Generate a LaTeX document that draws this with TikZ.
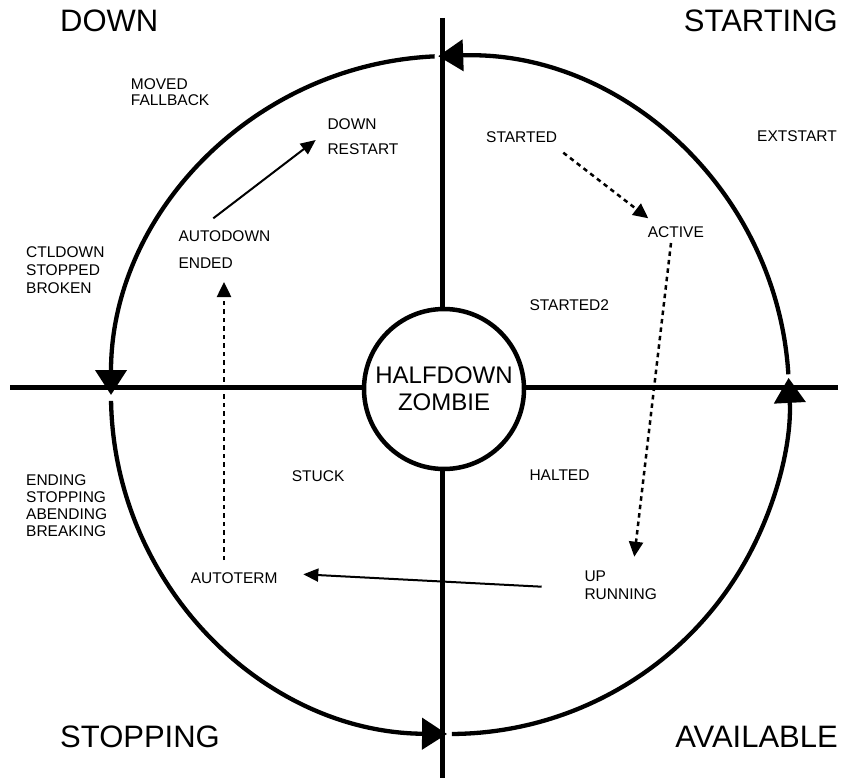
\documentclass[tikz,border=0pt]{standalone}
\usepackage{fontspec}
\setmainfont{Liberation Sans}
\usetikzlibrary{arrows.meta}
\begin{document}
\begin{tikzpicture}[x=1pt,y=-1pt,
  ring/.style={line width=4.3pt},
  axisline/.style={line width=5pt},
  bigarrow/.style={-{Triangle[length=25pt,width=31pt]}},
  biglbl/.style={font=\fontsize{31}{34}\selectfont, inner sep=0pt},
  lbl/.style={font=\fontsize{15.5}{#1}\selectfont, inner sep=0pt, anchor=base west, align=left},
  lbl/.default=17,
  flow/.style={line width=2pt, -{Triangle[length=15pt,width=13pt]}},
  dflow/.style={line width=2.5pt, dash pattern=on 4.5pt off 4pt, -{Triangle[length=15pt,width=14pt]}},
]
\useasboundingbox (0,0) rectangle (843,778);

% centre circle
\node[circle, draw, line width=4.5pt, minimum size=160pt, inner sep=0pt,
      align=center, font=\fontsize{24}{27}\selectfont] (hz) at (444,389) {HALFDOWN\\ZOMBIE};

% axes
\coordinate (vtop) at (442,18);
\coordinate (vbot) at (442,778);
\coordinate (hleft) at (10,387);
\coordinate (hright) at (838,387);
\draw[axisline] (vtop) -- (vtop |- hz.north);
\draw[axisline] (vbot) -- (vbot |- hz.south);
\draw[axisline] (hleft) -- (hleft -| hz.west);
\draw[axisline] (hright) -- (hright -| hz.east);

% outer ring, four arcs with arrowheads
\coordinate (c) at (450,395);
\draw[ring,bigarrow] (c) ++(-3.5:339) arc[start angle=-3.5, end angle=-92, radius=339];
\draw[ring,bigarrow] (c) ++(-92.6:339) arc[start angle=-92.6, end angle=-180, radius=339];
\draw[ring,bigarrow] (c) ++(-181:339) arc[start angle=-181, end angle=-269.5, radius=339];
\draw[ring,bigarrow] (c) ++(-270.3:339) arc[start angle=-270.3, end angle=-362.9, radius=339];

% quadrant titles
\node[biglbl, anchor=base west] (tdown) at (60,32) {DOWN};
\node[biglbl, anchor=base east] (tstarting) at (838,32) {STARTING};
\node[biglbl, anchor=base west] (tstopping) at (60,747) {STOPPING};
\node[biglbl, anchor=base east] (tavailable) at (838,747) {AVAILABLE};

% state labels (anchor = baseline of the last line)
\node[lbl=16.7] (moved) at (130.7,106) {MOVED\\FALLBACK};
\node[lbl=25] (downrestart) at (327.3,155) {DOWN\\RESTART};
\node[lbl] (extstart) at (757,142) {EXTSTART};
\node[lbl] (started) at (486,142.3) {STARTED};
\node[lbl=17.8] (ctldown) at (26,293.3) {CTLDOWN\\STOPPED\\BROKEN};
\node[lbl=26.6] (autodown) at (178.3,268.3) {AUTODOWN\\ENDED};
\node[lbl] (active) at (647.7,237.7) {ACTIVE};
\node[lbl] (started2) at (529.3,310.7) {STARTED2};
\node[lbl] (stuck) at (291.7,481) {STUCK};
\node[lbl] (halted) at (529.3,480) {HALTED};
\node[lbl=17] (ending) at (26,536.7) {ENDING\\STOPPING\\ABENDING\\BREAKING};
\node[lbl=17.6] (uprunning) at (584.3,599.3) {UP\\RUNNING};
\node[lbl] (autoterm) at (190.7,583.3) {AUTOTERM};

% transitions
\coordinate (a1s) at (213.3,218.3);
\coordinate (a1e) at (315.7,140);
\coordinate (a2s) at (224,560);
\coordinate (a2e) at (224,282);
\coordinate (a3s) at (563.3,152.7);
\coordinate (a3e) at (648.3,218.3);
\coordinate (a4s) at (671,243);
\coordinate (a4e) at (634.3,556.7);
\coordinate (a5s) at (541.7,586.7);
\coordinate (a5e) at (303.3,574.3);
\draw[flow] (a1s) -- (a1e);
\draw[dflow] (a2s) -- (a2e);
\draw[dflow] (a3s) -- (a3e);
\draw[dflow] (a4s) -- (a4e);
\draw[flow] (a5s) -- (a5e);
\end{tikzpicture}
\end{document}
